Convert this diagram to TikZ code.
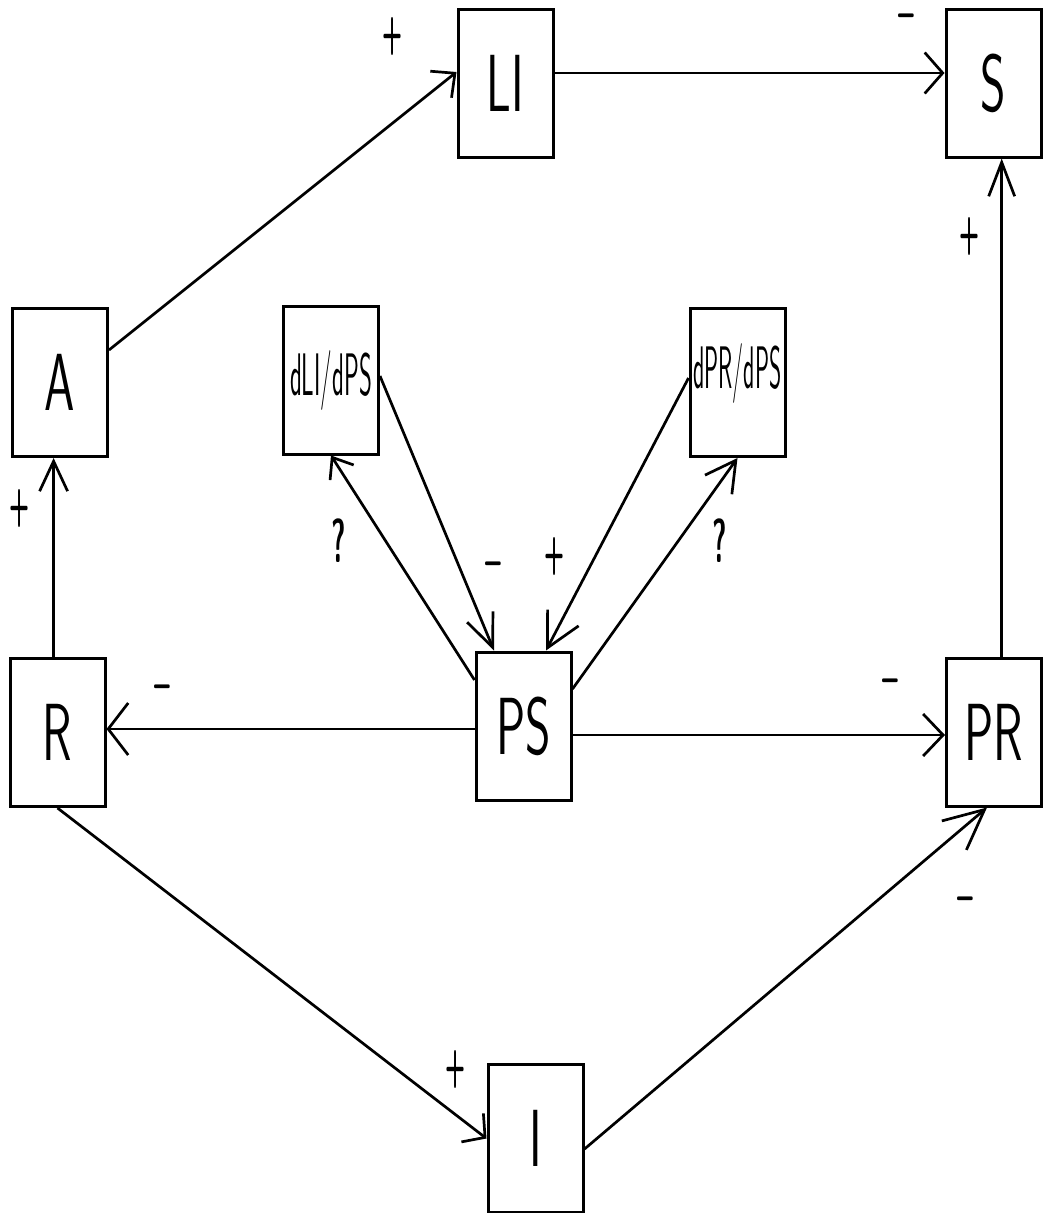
\documentclass[tikz,border=0pt]{standalone}
\usepackage{graphicx}
\usetikzlibrary{arrows.meta}
\newcommand\cond[2]{\scalebox{#1}[1]{#2}}
\tikzset{
  box/.style={draw, line width=3pt, minimum width=95pt, minimum height=148pt, inner sep=0pt,
    font=\fontsize{81}{81}\selectfont\sffamily},
  sbox/.style={box, font=\fontsize{60}{60}\selectfont\sffamily},
  ln/.style={line width=2.7pt},
  lab/.style={inner sep=0pt, font=\fontsize{52}{52}\selectfont\sffamily\bfseries},
  qlab/.style={inner sep=0pt, font=\fontsize{62}{62}\selectfont\sffamily\bfseries},
  hd/.style n args={2}{-{Straight Barb[length=#1pt,width=#2pt]}}
}
\begin{document}
\begin{tikzpicture}[x=1pt,y=-1pt]
\useasboundingbox (0,0) rectangle (1042,1213);
% boxes
\node[box]  (LI)  at (505.5,83.5)  {\cond{0.6}{LI}};
\node[box]  (S)   at (993.5,83)    {\cond{0.6}{S}};
\node[box]  (A)   at (60,382.5)    {\cond{0.6}{A}};
\node[sbox] (dLI) at (331,380)     {\cond{0.41}{dLI/dPS}};
\node[sbox, text depth=32pt] (dPR) at (737.5,382.5) {\cond{0.39}{dPR/dPS}};
\node[box]  (R)   at (57.5,732.5)  {\cond{0.6}{R}};
\node[box]  (PS)  at (523.5,726)   {\cond{0.6}{PS}};
\node[box]  (PR)  at (994,732)     {\cond{0.6}{PR}};
\node[box]  (I)   at (535.5,1138.5){\cond{0.6}{I}};
% connectors
\draw[ln, hd={18}{34}] ([yshift=32.5pt]A.east) -- ([yshift=11.5pt]LI.west);
\draw[ln, hd={18}{41}] ([yshift=10.5pt]LI.east) -- ([yshift=10pt]S.west);
\draw[ln, hd={34}{26}] ([xshift=7.7pt]PR.north) -- ([xshift=8.2pt]S.south);
\draw[ln, hd={30}{28}] ([xshift=-3.9pt]R.north) -- ([xshift=-6.4pt]A.south);
\draw[ln, hd={20}{52}] ([yshift=-3pt]PS.west) -- ([yshift=3.5pt]R.east);
\draw[ln, hd={20}{42}] ([yshift=-9pt]PS.east) -- ([yshift=-3pt]PR.west);
\draw[ln, hd={16}{36}] (R.south) -- (I.west);
\draw[ln, hd={40}{38}] ([yshift=-10.5pt]I.east) -- ([xshift=-7pt]PR.south);
\draw[ln, hd={18}{28}] ([yshift=46pt]PS.west) -- (dLI.south);
\draw[ln, hd={33}{28}] ([yshift=4pt]dLI.east) -- ([xshift=-29.5pt]PS.north);
\draw[ln, hd={34}{35}] ([yshift=4.5pt]dPR.west) -- ([xshift=22.5pt]PS.north);
\draw[ln, hd={30}{33}] ([yshift=37pt]PS.east) -- (dPR.south);
% signs
\node[lab]  (l1)  at (393,36)   {\cond{0.45}{+}};
\node[lab]  (l2)  at (906,22)   {\cond{0.55}{--}};
\node[lab]  (l3)  at (970,236)  {\cond{0.45}{+}};
\node[lab]  (l4)  at (20,508)   {\cond{0.45}{+}};
\node[lab]  (l5)  at (162,693)  {\cond{0.55}{--}};
\node[qlab] (l6)  at (339,541)  {\cond{0.45}{?}};
\node[lab]  (l7)  at (493,570)  {\cond{0.55}{--}};
\node[lab]  (l8)  at (555,556)  {\cond{0.45}{+}};
\node[qlab] (l9)  at (720,541)  {\cond{0.45}{?}};
\node[lab]  (l10) at (890,687)  {\cond{0.55}{--}};
\node[lab]  (l11) at (456,1069) {\cond{0.45}{+}};
\node[lab]  (l12) at (965,905)  {\cond{0.55}{--}};
\end{tikzpicture}
\end{document}
